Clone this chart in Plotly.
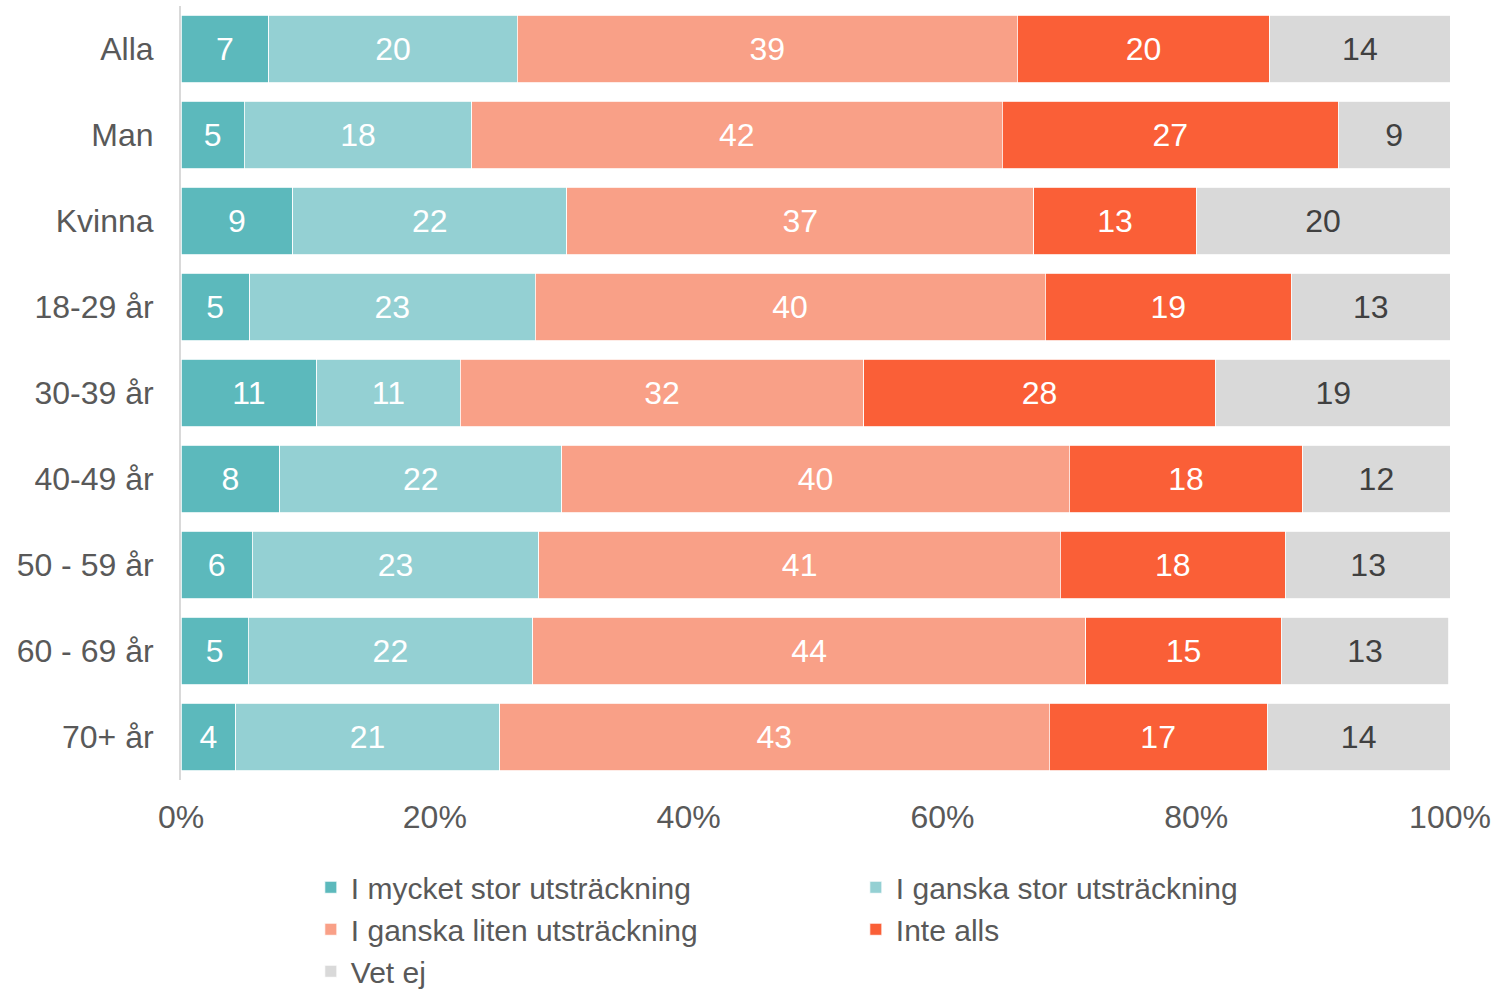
import plotly.graph_objects as go

categories = ["Alla", "Man", "Kvinna", "18-29 år", "30-39 år", "40-49 år", "50 - 59 år", "60 - 69 år", "70+ år"]

series_names = ["I mycket stor utsträckning", "I ganska stor utsträckning",
                "I ganska liten utsträckning", "Inte alls", "Vet ej"]

mycket_stor = [6.9, 5.0, 8.8, 5.4, 10.7, 7.8, 5.6, 5.3, 4.3]
ganska_stor = [19.6, 17.9, 21.6, 22.5, 11.3, 22.2, 22.6, 22.4, 20.8]
ganska_liten = [39.4, 41.8, 36.8, 40.2, 31.8, 40.0, 41.1, 43.6, 43.3]
inte_alls = [19.9, 26.5, 12.8, 19.4, 27.7, 18.4, 17.7, 15.4, 17.2]
vet_ej = [14.2, 8.8, 20.0, 12.5, 18.6, 11.6, 13.1, 13.2, 14.4]

colors = ["#5CB9BC", "#94D0D3", "#F9A087", "#FA5F37", "#D9D9D9"]
text_colors = ["white", "white", "white", "white", "#404040"]

FONT = "Liberation Sans, Arial, sans-serif"
FS = 32

fig = go.Figure()
for name, vals, col, tcol in zip(series_names,
                                 [mycket_stor, ganska_stor, ganska_liten, inte_alls, vet_ej],
                                 colors, text_colors):
    fig.add_trace(go.Bar(
        y=categories, x=vals, name=name, orientation="h",
        marker=dict(color=col, line=dict(color="white", width=0.8)),
        texttemplate="%{x:.0f}", textposition="inside", insidetextanchor="middle",
        textangle=0, constraintext="none",
        textfont=dict(family=FONT, size=FS, color=tcol),
        hoverinfo="skip",
    ))

fig.update_layout(
    barmode="stack",
    bargap=0.21,
    width=1496, height=993,
    margin=dict(l=181, r=46, t=6, b=213, autoexpand=False),
    paper_bgcolor="white", plot_bgcolor="white",
    font=dict(family=FONT, size=FS, color="#595959"),
    showlegend=True,
    legend=dict(
        orientation="h", x=0.1023, xanchor="left", y=-0.105, yanchor="top",
        entrywidth=500, entrywidthmode="pixels",
        font=dict(family=FONT, size=30, color="#595959"),
        traceorder="normal", itemclick=False,
    ),
)
fig.update_xaxes(range=[0, 100], dtick=20, ticksuffix="%", showgrid=False,
                 zeroline=False, showline=False, ticklabelstandoff=15, automargin=False,
                 tickfont=dict(family=FONT, size=FS, color="#595959"))
fig.update_yaxes(autorange="reversed", showgrid=False, showline=True, automargin=False,
                 linecolor="#D9D9D9", linewidth=2, ticks="", ticklabelstandoff=19,
                 tickfont=dict(family=FONT, size=FS, color="#595959"))

fig.write_html("out.html", config={"displayModeBar": False},
               post_script="document.body.style.margin='0px';document.body.style.overflow='hidden';")
